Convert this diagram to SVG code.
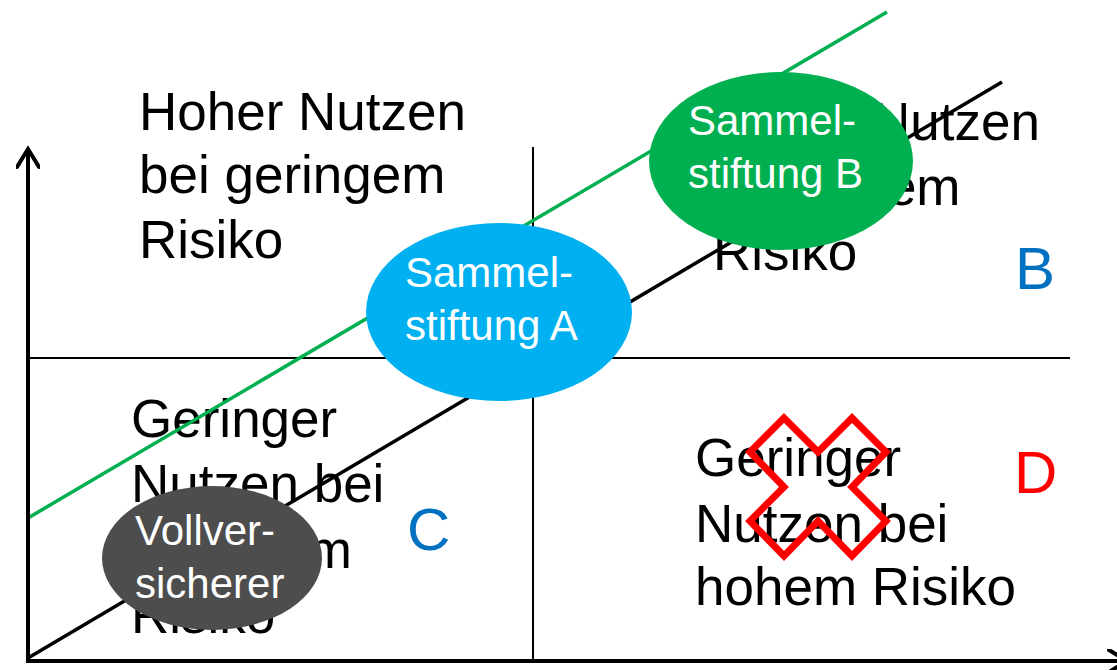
<svg xmlns="http://www.w3.org/2000/svg" width="1117" height="670" viewBox="0 0 1117 670">
  <style>
    .lbl { font-family: "Liberation Sans", Arial, sans-serif; font-size: 53px; fill: #000; }
    .big { font-family: "Liberation Sans", Arial, sans-serif; font-size: 60px; }
    .node { font-family: "Liberation Sans", Arial, sans-serif; font-size: 42px; fill: #fff; }
    .axis { stroke: #000; stroke-width: 4; fill: none; }
    .grid { stroke: #000; stroke-width: 2; fill: none; }
  </style>
  <defs>
    <marker id="arrow" viewBox="0 0 24 24" refX="20" refY="12" markerWidth="24" markerHeight="24" markerUnits="userSpaceOnUse" orient="auto">
      <path d="M2,1 L20,12 L2,23" fill="none" stroke="#000" stroke-width="4" stroke-linecap="round" stroke-linejoin="miter"/>
    </marker>
  </defs>

  <rect width="1117" height="670" fill="#fff"/>

  <!-- quadrant grid -->
  <g id="grid">
    <line class="grid" x1="533" y1="147" x2="533" y2="661"/>
    <line class="grid" x1="28" y1="358" x2="1070" y2="358"/>
  </g>

  <!-- quadrant texts -->
  <g id="quadrant-a">
    <text class="lbl" x="139" y="130">Hoher Nutzen</text>
    <text class="lbl" x="139" y="193">bei geringem</text>
    <text class="lbl" x="139" y="258">Risiko</text>
  </g>
  <g id="quadrant-b">
    <text class="lbl" x="713" y="140">Hoher Nutzen</text>
    <text class="lbl" x="713" y="205">bei hohem</text>
    <text class="lbl" x="713" y="270">Risiko</text>
    <text class="big" x="1015" y="289" fill="#0070C0">B</text>
  </g>
  <g id="quadrant-c">
    <text class="lbl" x="131" y="437">Geringer</text>
    <text class="lbl" x="131" y="502">Nutzen bei</text>
    <text class="lbl" x="131" y="568">geringem</text>
    <text class="lbl" x="131" y="633">Risiko</text>
    <text class="big" x="407" y="550" fill="#0070C0">C</text>
  </g>
  <g id="quadrant-d">
    <text class="lbl" x="695" y="476">Geringer</text>
    <text class="lbl" x="695" y="542">Nutzen bei</text>
    <text class="lbl" x="695" y="605">hohem Risiko</text>
    <text class="big" x="1014" y="493" fill="#FF0000">D</text>
  </g>

  <!-- connectors: axes and trend lines -->
  <g id="connectors">
    <line x1="28" y1="658" x2="1002" y2="82" stroke="#000" stroke-width="3.5"/>
    <line x1="28" y1="518" x2="887" y2="12" stroke="#00B050" stroke-width="3.5"/>
    <line class="axis" x1="28" y1="661" x2="28" y2="149" marker-end="url(#arrow)"/>
    <line class="axis" x1="26" y1="661" x2="1127" y2="661" marker-end="url(#arrow)"/>
  </g>

  <!-- red cross -->
  <g id="cross">
    <polygon points="784,418 818,452 852,418 886,452 852,487 886,521 852,556 818,521 784,556 750,521 784,487 750,452" fill="none" stroke="#FF0000" stroke-width="7" stroke-linejoin="miter"/>
  </g>

  <g id="sammelstiftung-a">
    <ellipse cx="499" cy="312" rx="133" ry="89" fill="#00B0F0"/>
    <text class="node" x="405" y="287">Sammel-</text>
    <text class="node" x="405" y="340">stiftung A</text>
  </g>
  <g id="sammelstiftung-b">
    <ellipse cx="781" cy="161" rx="132" ry="89" fill="#00B050"/>
    <text class="node" x="688" y="135">Sammel-</text>
    <text class="node" x="688" y="188">stiftung B</text>
  </g>
  <g id="vollversicherer">
    <ellipse cx="212" cy="558" rx="110" ry="72" fill="#4D4D4D"/>
    <text class="node" x="135" y="545">Vollver-</text>
    <text class="node" x="135" y="598">sicherer</text>
  </g>
</svg>
